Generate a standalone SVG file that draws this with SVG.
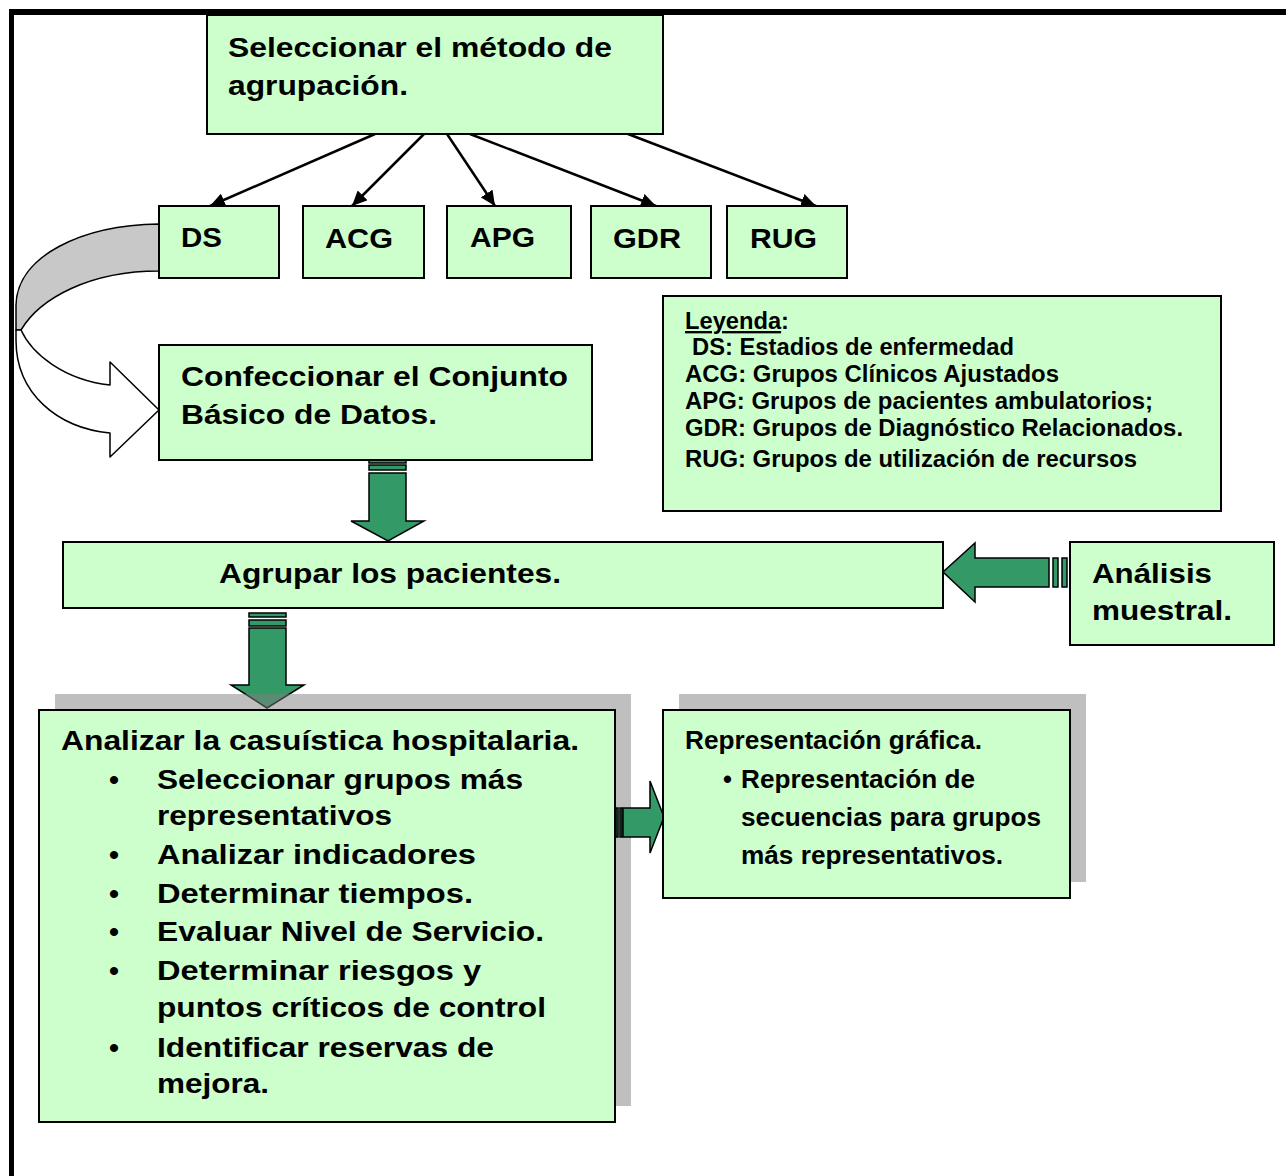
<svg xmlns="http://www.w3.org/2000/svg" width="1286" height="1176" viewBox="0 0 1286 1176">
  <style>
    .box { fill: #CCFFCC; stroke: #000; stroke-width: 2; }
    .shadow { fill: #808080; fill-opacity: 0.5; }
    .t { font-family: "Liberation Sans", Arial, sans-serif; font-weight: bold; fill: #000; }
    .big { font-size: 28.5px; }
    .leg { font-size: 23.5px; }
    .rep { font-size: 25.5px; }
    .link { stroke: #000; stroke-width: 2.5; fill: none; marker-end: url(#head); }
    .block { fill: #339966; stroke: #000; stroke-width: 1.5; stroke-linejoin: miter; }
  </style>
  <defs>
    <marker id="head" markerUnits="userSpaceOnUse" markerWidth="16" markerHeight="14" refX="15" refY="7" orient="auto">
      <path d="M0,0 L15,7 L0,14 Z" fill="#000"/>
    </marker>
  </defs>

  <rect width="1286" height="1176" fill="#fff"/>

  <!-- page frame (top and left rules) -->
  <g id="frame">
    <rect x="9" y="9" width="1277" height="6" fill="#000"/>
    <rect x="9" y="9" width="5" height="1167" fill="#000"/>
  </g>

  <!-- curved arrow from DS to the data set box -->
  <g id="curved-arrow" stroke="#000" stroke-width="1.5" stroke-linejoin="round">
    <path d="M159,224 C82,225 17,256 16,305 L16,330 L21,330 C40,298 90,271 159,271 Z" fill="#C8C8C8"/>
    <path d="M21,330 C32,354 64,380 110,385 L110,362 L159,410 L110,457 L110,433 C58,428 16,394 16,340 L16,330 Z" fill="#fff"/>
  </g>

  <!-- connectors -->
  <g id="connectors">
    <line class="link" x1="375" y1="134" x2="210" y2="206"/>
    <line class="link" x1="424" y1="134" x2="352" y2="206"/>
    <line class="link" x1="447" y1="134" x2="495" y2="206"/>
    <line class="link" x1="470" y1="134" x2="656" y2="206"/>
    <line class="link" x1="628" y1="134" x2="816" y2="206"/>

    <!-- block arrow: data set -> grouping -->
    <rect class="block" x="369" y="460" width="37" height="3"/>
    <rect class="block" x="369" y="465" width="37" height="5"/>
    <path class="block" d="M369,473 H406 V521 H424 L388,541 L351,521 H369 Z"/>

    <!-- block arrow: grouping -> analysis -->
    <rect class="block" x="249" y="613" width="37" height="4"/>
    <rect class="block" x="249" y="620" width="37" height="6"/>
    <path class="block" d="M249,628 H286 V685 H304 L267,708 L231,685 H249 Z"/>

    <!-- block arrow: sample analysis -> grouping -->
    <rect class="block" x="1062" y="558" width="5" height="29"/>
    <rect class="block" x="1053" y="558" width="5" height="29"/>
    <path class="block" d="M1049,558 V587 H975 V602 L943,572 L975,543 V558 Z"/>
  </g>

  <!-- node: select method -->
  <g id="n-metodo">
    <rect class="box" x="207" y="15" width="456" height="119"/>
    <text class="t big" x="228" y="57" textLength="384" lengthAdjust="spacingAndGlyphs">Seleccionar el método de</text>
    <text class="t big" x="228" y="95" textLength="180" lengthAdjust="spacingAndGlyphs">agrupación.</text>
  </g>

  <g id="n-ds">
    <rect class="box" x="159" y="206" width="120" height="72"/>
    <text class="t big" x="181" y="247" textLength="41" lengthAdjust="spacingAndGlyphs">DS</text>
  </g>
  <g id="n-acg">
    <rect class="box" x="303" y="206" width="121" height="72"/>
    <text class="t big" x="325" y="248" textLength="68" lengthAdjust="spacingAndGlyphs">ACG</text>
  </g>
  <g id="n-apg">
    <rect class="box" x="447" y="206" width="124" height="72"/>
    <text class="t big" x="470" y="247" textLength="65" lengthAdjust="spacingAndGlyphs">APG</text>
  </g>
  <g id="n-gdr">
    <rect class="box" x="591" y="206" width="120" height="72"/>
    <text class="t big" x="613" y="248" textLength="68" lengthAdjust="spacingAndGlyphs">GDR</text>
  </g>
  <g id="n-rug">
    <rect class="box" x="727" y="206" width="120" height="72"/>
    <text class="t big" x="750" y="248" textLength="67" lengthAdjust="spacingAndGlyphs">RUG</text>
  </g>

  <!-- legend -->
  <g id="n-leyenda">
    <rect class="box" x="663" y="296" width="558" height="215"/>
    <text class="t leg" x="685" y="329" textLength="104" lengthAdjust="spacingAndGlyphs"><tspan text-decoration="underline">Leyenda</tspan>:</text>
    <text class="t leg" x="692" y="355" textLength="322" lengthAdjust="spacingAndGlyphs">DS: Estadios de enfermedad</text>
    <text class="t leg" x="685" y="382" textLength="374" lengthAdjust="spacingAndGlyphs">ACG: Grupos Clínicos Ajustados</text>
    <text class="t leg" x="685" y="409" textLength="468" lengthAdjust="spacingAndGlyphs">APG: Grupos de pacientes ambulatorios;</text>
    <text class="t leg" x="685" y="436" textLength="498" lengthAdjust="spacingAndGlyphs">GDR: Grupos de Diagnóstico Relacionados.</text>
    <text class="t leg" x="685" y="467" textLength="452" lengthAdjust="spacingAndGlyphs">RUG: Grupos de utilización de recursos</text>
  </g>

  <g id="n-conjunto">
    <rect class="box" x="159" y="345" width="433" height="115"/>
    <text class="t big" x="181" y="386" textLength="387" lengthAdjust="spacingAndGlyphs">Confeccionar el Conjunto</text>
    <text class="t big" x="181" y="424" textLength="256" lengthAdjust="spacingAndGlyphs">Básico de Datos.</text>
  </g>

  <g id="n-agrupar">
    <rect class="box" x="63" y="542" width="880" height="66"/>
    <text class="t big" x="219" y="583" textLength="342" lengthAdjust="spacingAndGlyphs">Agrupar los pacientes.</text>
  </g>

  <g id="n-muestral">
    <rect class="box" x="1070" y="542" width="204" height="103"/>
    <text class="t big" x="1092" y="583" textLength="120" lengthAdjust="spacingAndGlyphs">Análisis</text>
    <text class="t big" x="1092" y="620" textLength="140" lengthAdjust="spacingAndGlyphs">muestral.</text>
  </g>

  <!-- node: hospital case-mix analysis -->
  <g id="n-analizar">
    <rect class="shadow" x="55" y="694" width="576" height="412"/>
    <rect class="box" x="39" y="710" width="576" height="412"/>
    <text class="t big" x="61" y="750" textLength="518" lengthAdjust="spacingAndGlyphs">Analizar la casuística hospitalaria.</text>
    <g class="t big">
      <text x="109" y="789">•</text>
      <text x="109" y="864">•</text>
      <text x="109" y="903">•</text>
      <text x="109" y="941">•</text>
      <text x="109" y="980">•</text>
      <text x="109" y="1057">•</text>
    </g>
    <text class="t big" x="157" y="789" textLength="366" lengthAdjust="spacingAndGlyphs">Seleccionar grupos más</text>
    <text class="t big" x="157" y="825" textLength="235" lengthAdjust="spacingAndGlyphs">representativos</text>
    <text class="t big" x="157" y="864" textLength="319" lengthAdjust="spacingAndGlyphs">Analizar  indicadores</text>
    <text class="t big" x="157" y="903" textLength="316" lengthAdjust="spacingAndGlyphs">Determinar  tiempos.</text>
    <text class="t big" x="157" y="941" textLength="387" lengthAdjust="spacingAndGlyphs">Evaluar Nivel de Servicio.</text>
    <text class="t big" x="157" y="980" textLength="324" lengthAdjust="spacingAndGlyphs">Determinar  riesgos y</text>
    <text class="t big" x="157" y="1017" textLength="389" lengthAdjust="spacingAndGlyphs">puntos críticos de control</text>
    <text class="t big" x="157" y="1057" textLength="337" lengthAdjust="spacingAndGlyphs">Identificar reservas de</text>
    <text class="t big" x="157" y="1093" textLength="112" lengthAdjust="spacingAndGlyphs">mejora.</text>
  </g>

  <!-- block arrow: analysis -> graphic representation -->
  <g id="arrow-rep">
    <rect class="block" x="616" y="808" width="2" height="29"/>
    <rect class="block" x="620" y="808" width="2" height="29"/>
    <path class="block" d="M623,808 H650 V781 L664,817 L650,853 V837 H623 Z"/>
  </g>

  <g id="n-representacion">
    <rect class="shadow" x="679" y="694" width="407" height="188"/>
    <rect class="box" x="663" y="710" width="407" height="188"/>
    <text class="t rep" x="685" y="749" textLength="297" lengthAdjust="spacingAndGlyphs">Representación gráfica.</text>
    <text class="t rep" x="723" y="788">•</text>
    <text class="t rep" x="741" y="788" textLength="234" lengthAdjust="spacingAndGlyphs">Representación de</text>
    <text class="t rep" x="741" y="826" textLength="300" lengthAdjust="spacingAndGlyphs">secuencias para grupos</text>
    <text class="t rep" x="741" y="864" textLength="262" lengthAdjust="spacingAndGlyphs">más representativos.</text>
  </g>
</svg>
